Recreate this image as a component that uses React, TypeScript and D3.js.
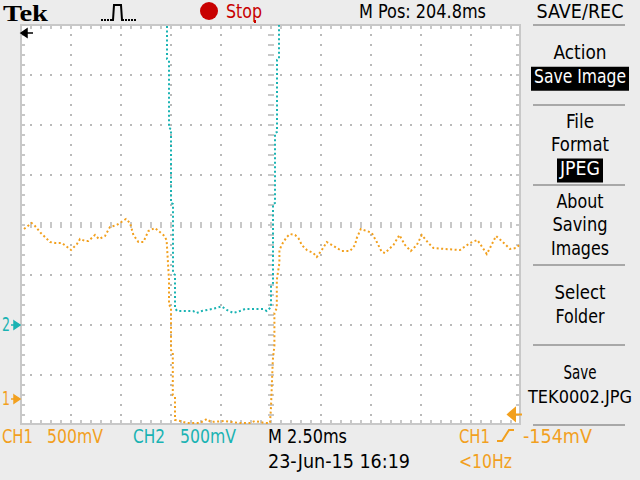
import { useEffect, useRef } from 'react';
import * as d3 from 'd3';

// Samples: [time in ms from the left edge, volts]
const ch1Trace: [number, number][] = [
  [0.15, 1.70], [0.53, 1.76], [0.70, 1.73], [0.99, 1.66], [1.20, 1.62], [1.45, 1.57],
  [1.70, 1.56], [2.04, 1.56], [2.25, 1.53], [2.50, 1.49], [2.80, 1.55], [2.95, 1.60],
  [3.20, 1.58], [3.37, 1.58], [3.70, 1.64], [3.90, 1.60], [4.20, 1.63], [4.45, 1.72],
  [4.79, 1.74], [5.25, 1.80], [5.45, 1.76], [5.62, 1.64], [5.87, 1.57], [6.12, 1.57],
  [6.37, 1.68], [6.70, 1.71], [7.12, 1.64], [7.28, 1.59], [7.34, 1.39], [7.40, 1.19],
  [7.40, 0.94], [7.50, 0.92], [7.50, 0.49], [7.59, 0.47], [7.59, 0.04], [7.70, 0.02],
  [7.70, -0.21], [7.95, -0.22], [8.29, -0.24], [8.95, -0.24], [9.29, -0.20], [9.49, -0.23],
  [10.20, -0.22], [10.54, -0.23], [10.95, -0.24], [11.45, -0.24], [11.70, -0.22], [12.20, -0.24],
  [12.45, -0.24], [12.50, -0.08], [12.59, 0.39], [12.67, 0.53], [12.67, 0.86], [12.79, 0.91],
  [12.79, 1.19], [12.92, 1.36], [12.92, 1.49], [13.09, 1.56], [13.29, 1.62], [13.45, 1.65],
  [13.70, 1.64], [13.87, 1.61], [14.04, 1.54], [14.29, 1.49], [14.62, 1.46], [14.79, 1.42],
  [15.04, 1.49], [15.29, 1.57], [15.79, 1.51], [16.04, 1.48], [16.45, 1.48], [16.70, 1.54],
  [16.79, 1.61], [16.99, 1.70], [17.29, 1.68], [17.54, 1.66], [17.79, 1.57], [18.04, 1.47],
  [18.20, 1.46], [18.62, 1.54], [18.92, 1.64], [19.20, 1.54], [19.49, 1.48], [19.79, 1.54],
  [20.04, 1.64], [20.37, 1.56], [20.62, 1.51], [21.20, 1.50], [21.95, 1.49], [22.45, 1.56],
  [22.82, 1.59], [23.09, 1.51], [23.29, 1.45], [23.45, 1.51], [23.75, 1.63], [24.04, 1.58],
  [24.45, 1.50], [24.75, 1.51], [24.92, 1.54],
];

const ch2Trace: [number, number][] = [
  [0, 3.6], [7.30, 3.3], [7.30, 2.66], [7.40, 2.65], [7.40, 1.97], [7.50, 1.96],
  [7.50, 1.22], [7.60, 1.21], [7.60, 0.52], [7.70, 0.50], [7.70, 0.17], [7.80, 0.14],
  [8.60, 0.14], [8.78, 0.12], [9.04, 0.14], [9.54, 0.16], [10.04, 0.185], [10.29, 0.15],
  [10.62, 0.12], [10.95, 0.14], [11.20, 0.16], [12.12, 0.16], [12.29, 0.14], [12.45, 0.17],
  [12.50, 0.18], [12.50, 0.40], [12.60, 0.42], [12.60, 1.21], [12.70, 1.22], [12.70, 1.92],
  [12.80, 1.93], [12.80, 2.65], [12.90, 2.66], [12.90, 3.3], [25, 3.6],
];

const msPerDiv = 2.5;
const voltsPerDiv = 0.5;
const ch1Position = -3.48; // ground marker, divisions from centre
const ch2Position = -2.0;
const triggerLevel = -0.154; // volts on CH1

const ch1Scale = '500mV';
const ch2Scale = '500mV';
const timeBase = 'M 2.50ms';
const horizPos = 'M Pos: 204.8ms';
const stamp = '23-Jun-15 16:19';
const triggerSource = 'CH1';
const triggerText = '-154mV';
const triggerFreq = '<10Hz';

const menuTitle = 'SAVE/REC';
const menuEntries: { lines: string[]; value?: string }[] = [
  { lines: ['Action'], value: 'Save Image' },
  { lines: ['File', 'Format'], value: 'JPEG' },
  { lines: ['About', 'Saving', 'Images'] },
  { lines: ['Select', 'Folder'] },
  { lines: ['Save', 'TEK0002.JPG'] },
];

const TekScreen = () => {
  const svgRef = useRef<SVGSVGElement | null>(null);

  useEffect(() => {
    const svg = d3.select(svgRef.current);
    svg.selectAll('*').remove();

    const plot = { left: 21, right: 521, top: 25, bottom: 425 };
    const font = '"DejaVu Sans Condensed", "DejaVu Sans", sans-serif';
    const orange = '#f2a01e';
    const cyan = '#1ab3b3';
    const red = '#c80000';
    const gridGray = '#b9b9b9';
    const tickGray = '#c8c8c8';

    const x = d3.scaleLinear().domain([0, 10 * msPerDiv]).range([plot.left, plot.right]);
    const yDiv = d3.scaleLinear().domain([-4, 4]).range([plot.bottom, plot.top]);
    const y1 = (v: number) => yDiv(v / voltsPerDiv + ch1Position);
    const y2 = (v: number) => yDiv(v / voltsPerDiv + ch2Position);

    // text with its width pinned to what the screen shows
    const label = (s: string, tx: number, ty: number, w: number, fill = '#000', anchor = 'start', size = 20) =>
      svg.append('text')
        .attr('x', tx).attr('y', ty)
        .attr('font-family', font).attr('font-size', size)
        .attr('fill', fill).attr('text-anchor', anchor)
        .attr('textLength', w).attr('lengthAdjust', 'spacingAndGlyphs')
        .text(s);

    svg.append('rect').attr('width', 640).attr('height', 480).attr('fill', '#ececec');
    svg.append('rect')
      .attr('x', plot.left).attr('y', plot.top)
      .attr('width', plot.right - plot.left).attr('height', plot.bottom - plot.top)
      .attr('fill', '#fff');

    // dotted graticule
    const grid = svg.append('g').attr('fill', gridGray);
    const along = (a: number, b: number) => d3.range(a + 10, b - 5, 10);
    d3.range(1, 10).forEach(i => {
      const gx = Math.round(x(i * msPerDiv));
      grid.selectAll(null).data(along(plot.top, plot.bottom)).enter().append('rect')
        .attr('x', gx - 1).attr('y', d => d - 1).attr('width', 2).attr('height', 2);
    });
    d3.range(-3, 4).forEach(j => {
      const gy = Math.round(yDiv(j));
      grid.selectAll(null).data(along(plot.left, plot.right)).enter().append('rect')
        .attr('x', d => d - 1).attr('y', gy - 1).attr('width', 2).attr('height', 2);
    });

    // minor ticks on centre lines and edges
    const ticks = svg.append('g').attr('fill', tickGray);
    const cx = Math.round(x(5 * msPerDiv));
    const cy = Math.round(yDiv(0));
    along(plot.left, plot.right).forEach(tx => {
      ticks.append('rect').attr('x', tx - 1).attr('y', cy - 3).attr('width', 2).attr('height', 6);
      ticks.append('rect').attr('x', tx - 1).attr('y', plot.top).attr('width', 2).attr('height', 4);
      ticks.append('rect').attr('x', tx - 1).attr('y', plot.bottom - 5).attr('width', 2).attr('height', 4);
    });
    along(plot.top, plot.bottom).forEach(ty => {
      ticks.append('rect').attr('x', cx - 3).attr('y', ty - 1).attr('width', 6).attr('height', 2);
      ticks.append('rect').attr('x', plot.left).attr('y', ty - 1).attr('width', 4).attr('height', 2);
      ticks.append('rect').attr('x', plot.right - 5).attr('y', ty - 1).attr('width', 4).attr('height', 2);
    });
    svg.append('rect')
      .attr('x', plot.left).attr('y', plot.top)
      .attr('width', plot.right - plot.left - 1).attr('height', plot.bottom - plot.top - 1)
      .attr('fill', 'none').attr('stroke', tickGray).attr('stroke-width', 2);

    // traces
    svg.append('clipPath').attr('id', 'screen').append('rect')
      .attr('x', plot.left).attr('y', plot.top)
      .attr('width', plot.right - plot.left).attr('height', plot.bottom - plot.top);

    const line1 = d3.line<[number, number]>().x(d => x(d[0])).y(d => y1(d[1]));
    const line2 = d3.line<[number, number]>().x(d => x(d[0])).y(d => y2(d[1]));
    svg.append('path').attr('d', line2(ch2Trace))
      .attr('fill', 'none').attr('stroke', cyan).attr('stroke-width', 2)
      .attr('stroke-dasharray', '2 2.5').attr('clip-path', 'url(#screen)');
    svg.append('path').attr('d', line1(ch1Trace))
      .attr('fill', 'none').attr('stroke', orange).attr('stroke-width', 2)
      .attr('stroke-dasharray', '2 2.5').attr('clip-path', 'url(#screen)');

    // ground markers
    const groundMark = (name: string, gy: number, color: string) => {
      label(name, 2, gy + 6, 8, color);
      svg.append('path').attr('d', `M11,${gy} H15 M14,${gy - 4} L20,${gy} L14,${gy + 4} Z`)
        .attr('stroke', color).attr('stroke-width', 1.5).attr('fill', color);
    };
    groundMark('1', y1(0), orange);
    groundMark('2', y2(0), cyan);

    // trigger level marker (right edge)
    const ty = y1(triggerLevel);
    svg.append('path').attr('d', `M508,${ty} L515,${ty - 6} L515,${ty + 6} Z M515,${ty} H522`)
      .attr('fill', orange).attr('stroke', orange).attr('stroke-width', 2);

    // trigger position off-screen to the left, and its mark above the screen
    svg.append('path').attr('d', 'M21,33 L27,29 L27,37 Z M27,33 H33 M27,29 V37')
      .attr('fill', '#000').attr('stroke', '#000').attr('stroke-width', 1.5);
    svg.append('rect').attr('x', 254).attr('y', 20).attr('width', 2).attr('height', 3).attr('fill', red);

    // header
    svg.append('text').attr('x', 3).attr('y', 21)
      .attr('font-family', '"Liberation Serif", serif').attr('font-weight', 'bold').attr('font-size', 24)
      .attr('textLength', 45).attr('lengthAdjust', 'spacingAndGlyphs').text('Tek');
    svg.append('g').attr('fill', '#000').selectAll(null)
      .data([101, 104, 107, 110, 125, 128, 131, 134]).enter().append('rect')
      .attr('x', d => d).attr('y', 19).attr('width', 2).attr('height', 2);
    svg.append('path').attr('d', 'M111,20 H113 L114,5 H121 L122,20 H124')
      .attr('fill', 'none').attr('stroke', '#000').attr('stroke-width', 2);
    svg.append('circle').attr('cx', 209).attr('cy', 11).attr('r', 9).attr('fill', red);
    label('Stop', 226, 17.5, 36, red);
    label(horizPos, 359, 17.5, 127);

    // side menu
    const menuX = 580;
    label(menuTitle, menuX, 17.5, 87, '#000', 'middle');
    const widths: Record<string, number> = {
      Action: 53, 'Save Image': 92, File: 28, Format: 58, JPEG: 40, About: 47, Saving: 55,
      Images: 58, Select: 51, Folder: 49, Save: 33, 'TEK0002.JPG': 104,
    };
    d3.range(0, 6).forEach(i => {
      svg.append('line').attr('x1', 533).attr('x2', 625)
        .attr('y1', 25 + 80 * i).attr('y2', 25 + 80 * i)
        .attr('stroke', '#a8a8a8').attr('stroke-width', 2);
    });
    menuEntries.forEach((entry, i) => {
      const rows = entry.lines.length + (entry.value ? 1 : 0);
      const top = 25 + 80 * i;
      const first = top + 46 - ((rows - 1) * 23.5) / 2;
      entry.lines.forEach((s, k) => {
        const long = s.length > 10;
        label(s, menuX, first + k * 23.5, widths[s] ?? 40, '#000', 'middle', long ? 18 : 20);
      });
      if (entry.value) {
        const by = first + entry.lines.length * 23.5;
        const w = widths[entry.value] ?? 40;
        svg.append('rect').attr('x', menuX - w / 2 - 3).attr('y', by - 16)
          .attr('width', w + 6).attr('height', 24).attr('fill', '#000');
        label(entry.value, menuX, by, w, '#fff', 'middle');
      }
    });

    // status lines
    label('CH1', 2, 443, 31, orange);
    label(ch1Scale, 47, 443, 56, orange);
    label('CH2', 133, 443, 32, cyan);
    label(ch2Scale, 180, 443, 56, cyan);
    label(timeBase, 268, 443, 79);
    label(stamp, 268, 468, 142);
    label(triggerSource, 459, 443, 31, orange);
    svg.append('path').attr('d', 'M497,441 H502 L509,430 H514')
      .attr('fill', 'none').attr('stroke', orange).attr('stroke-width', 2);
    label(triggerText, 523, 443, 69, orange);
    label(triggerFreq, 459, 468, 53, orange);
  }, []);

  return (
    <svg ref={svgRef} width={640} height={480}
      style={{ position: 'absolute', left: 0, top: 0, display: 'block' }} />
  );
};

export default function App() {
  return <TekScreen />;
}
